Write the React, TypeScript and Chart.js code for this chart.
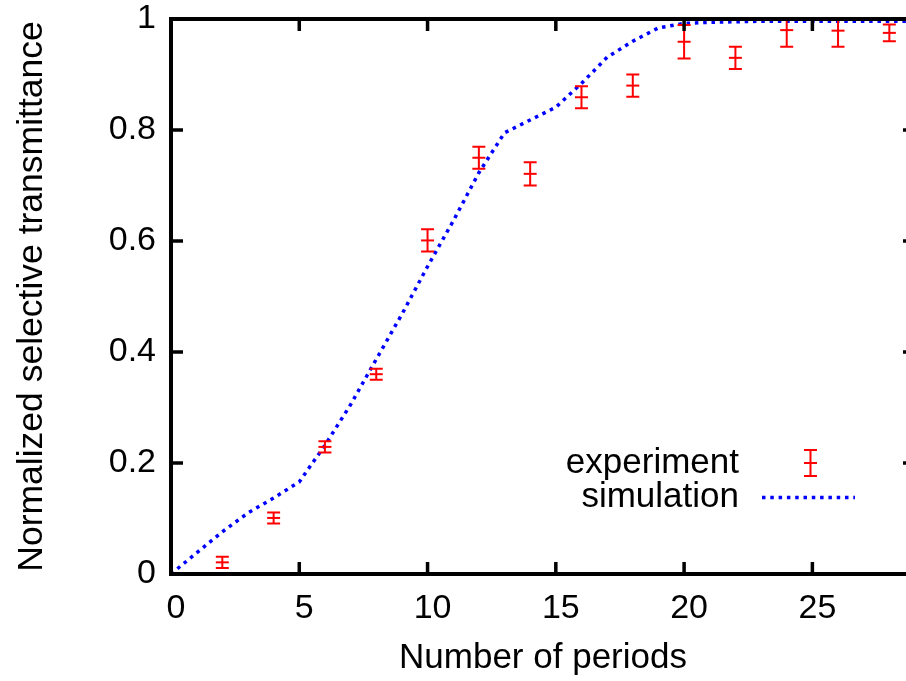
import React, { useEffect, useRef } from "react";
import { Chart, registerables } from "chart.js";

Chart.register(...registerables);

// ---- data ----
const periods = [2, 4, 6, 8, 10, 12, 14, 16, 18, 20, 22, 24, 26, 28];
const experiment = [0.021, 0.101, 0.229, 0.36, 0.601, 0.75, 0.721, 0.859, 0.88, 0.959, 0.93, 0.98, 0.979, 0.975];
const experimentErr = [0.01, 0.01, 0.01, 0.01, 0.02, 0.02, 0.021, 0.02, 0.02, 0.03, 0.02, 0.03, 0.029, 0.015];

const simPeriods = [0, 1, 2, 3, 4, 5, 6, 7, 8, 9, 10, 11, 12, 13, 14, 15, 16, 17, 18, 19, 20, 21, 22, 23, 24, 25, 26, 27, 28, 29];
const simulation = [
  0.0, 0.038, 0.076, 0.11, 0.137, 0.166, 0.232, 0.305, 0.387, 0.468, 0.554, 0.636, 0.723, 0.795, 0.818,
  0.841, 0.884, 0.931, 0.96, 0.984, 0.992, 0.994, 0.995, 0.996, 0.996, 0.996, 0.996, 0.996, 0.996, 0.996,
];

const xTickValues = [0, 5, 10, 15, 20, 25];
const yTickValues = [0, 0.2, 0.4, 0.6, 0.8, 1];
const yTickLabels = ["0", "0.2", "0.4", "0.6", "0.8", "1"];
const xTitle = "Number of periods";
const yTitle = "Normalized selective transmittance";
const legendLabels = ["experiment", "simulation"];

const FONT = "'Liberation Sans', Arial, Helvetica, sans-serif";
const RED = "#ff0000";
const BLUE = "#0000ff";

const gnuplotPlugin = {
  id: "gnuplotDecor",
  afterDatasetsDraw(chart: any) {
    const { ctx, chartArea } = chart;
    const xs = chart.scales.x;
    const ys = chart.scales.y;
    const meta = chart.getDatasetMeta(0);

    // error bars
    ctx.save();
    ctx.beginPath();
    ctx.rect(chartArea.left, chartArea.top, chartArea.right - chartArea.left, chartArea.bottom - chartArea.top);
    ctx.clip();
    ctx.strokeStyle = RED;
    ctx.lineWidth = 2;
    const cap = 6.5;
    meta.data.forEach((pt: any, i: number) => {
      const x = pt.x;
      const yTop = ys.getPixelForValue(experiment[i] + experimentErr[i]);
      const yBot = ys.getPixelForValue(experiment[i] - experimentErr[i]);
      ctx.beginPath();
      ctx.moveTo(x, yTop);
      ctx.lineTo(x, yBot);
      ctx.moveTo(x - cap, yTop);
      ctx.lineTo(x + cap, yTop);
      ctx.moveTo(x - cap, yBot);
      ctx.lineTo(x + cap, yBot);
      ctx.stroke();
    });
    ctx.restore();

    // frame and inward ticks
    ctx.save();
    ctx.strokeStyle = "#000";
    ctx.lineWidth = 4;
    ctx.strokeRect(chartArea.left, chartArea.top, chartArea.right - chartArea.left, chartArea.bottom - chartArea.top);
    ctx.lineWidth = 3.5;
    const tl = 12;
    ctx.beginPath();
    xs.ticks.forEach((t: any) => {
      const px = xs.getPixelForValue(t.value);
      ctx.moveTo(px, chartArea.bottom);
      ctx.lineTo(px, chartArea.bottom - tl);
      ctx.moveTo(px, chartArea.top);
      ctx.lineTo(px, chartArea.top + tl);
    });
    ys.ticks.forEach((t: any) => {
      const py = ys.getPixelForValue(t.value);
      ctx.moveTo(chartArea.left, py);
      ctx.lineTo(chartArea.left + tl, py);
      ctx.moveTo(chartArea.right, py);
      ctx.lineTo(chartArea.right - tl, py);
    });
    ctx.stroke();
    ctx.restore();

    // legend
    ctx.save();
    ctx.fillStyle = "#000";
    ctx.font = `35px ${FONT}`;
    ctx.textAlign = "right";
    ctx.textBaseline = "middle";
    ctx.fillText(legendLabels[0], 739, 463);
    ctx.fillText(legendLabels[1], 739, 497);
    // experiment sample
    ctx.strokeStyle = RED;
    ctx.lineWidth = 2;
    const lx = 810.5;
    ctx.beginPath();
    ctx.moveTo(lx, 450);
    ctx.lineTo(lx, 476);
    ctx.moveTo(lx - cap, 450);
    ctx.lineTo(lx + cap, 450);
    ctx.moveTo(lx - cap, 476);
    ctx.lineTo(lx + cap, 476);
    ctx.moveTo(lx - cap, 463);
    ctx.lineTo(lx + cap, 463);
    ctx.stroke();
    // simulation sample
    ctx.strokeStyle = BLUE;
    ctx.lineWidth = 3.5;
    ctx.setLineDash([3.5, 4.8]);
    ctx.beginPath();
    ctx.moveTo(762, 497.5);
    ctx.lineTo(855, 497.5);
    ctx.stroke();
    ctx.restore();
  },
};

export default function App() {
  const ref = useRef<HTMLCanvasElement | null>(null);

  useEffect(() => {
    if (!ref.current) return;
    const chart = new Chart(ref.current, {
      type: "scatter",
      data: {
        datasets: [
          {
            label: legendLabels[0],
            data: periods.map((p, i) => ({ x: p, y: experiment[i] })),
            showLine: false,
            pointStyle: "line",
            pointRadius: 6.5,
            pointBorderWidth: 2,
            borderColor: RED,
            backgroundColor: RED,
            pointBorderColor: RED,
          } as any,
          {
            type: "line",
            label: legendLabels[1],
            data: simPeriods.map((p, i) => ({ x: p, y: simulation[i] })),
            borderColor: BLUE,
            borderWidth: 3.5,
            borderDash: [3.5, 4.8],
            borderCapStyle: "butt",
            pointRadius: 0,
            tension: 0,
            fill: false,
          } as any,
        ],
      },
      options: {
        animation: false,
        responsive: false,
        maintainAspectRatio: false,
        devicePixelRatio: 1,
        layout: { padding: { left: 0, right: 15, top: 19, bottom: 0 } },
        plugins: {
          legend: { display: false },
          tooltip: { enabled: false },
        },
        scales: {
          x: {
            type: "linear",
            min: 0,
            max: 29,
            afterFit: (s: any) => {
              s.height = 107;
              s.paddingLeft = 0;
              s.paddingRight = 0;
            },
            afterBuildTicks: (s: any) => {
              s.ticks = xTickValues.map((v) => ({ value: v }));
            },
            grid: { display: false, drawTicks: false },
            border: { display: false },
            ticks: {
              includeBounds: false,
              stepSize: 5,
              padding: 18,
              labelOffset: 5,
              maxRotation: 0,
              color: "#000",
              font: { family: FONT, size: 34, lineHeight: 1 },
            },
            title: {
              display: true,
              text: xTitle,
              color: "#000",
              font: { family: FONT, size: 35, lineHeight: 1.2 },
              padding: { top: 0, bottom: 2 },
            },
          },
          y: {
            type: "linear",
            min: 0,
            max: 1,
            afterFit: (s: any) => {
              s.width = 171;
              s.paddingTop = 0;
              s.paddingBottom = 0;
            },
            afterBuildTicks: (s: any) => {
              s.ticks = yTickValues.map((v) => ({ value: v }));
            },
            grid: { display: false, drawTicks: false },
            border: { display: false },
            ticks: {
              includeBounds: false,
              padding: 15,
              color: "#000",
              font: { family: FONT, size: 34, lineHeight: 1 },
              callback: (v: any) => {
                const idx = yTickValues.findIndex((t) => Math.abs(t - Number(v)) < 1e-9);
                return idx >= 0 ? yTickLabels[idx] : "";
              },
            },
            title: {
              display: true,
              text: yTitle,
              color: "#000",
              font: { family: FONT, size: 35.5, lineHeight: 1.2 },
              padding: { top: 11, bottom: 0 },
            },
          },
        },
      },
      plugins: [gnuplotPlugin],
    } as any);
    return () => chart.destroy();
  }, []);

  return (
    <div
      style={{
        position: "fixed",
        left: 0,
        top: 0,
        width: 906,
        height: 681,
        overflow: "hidden",
        background: "#fff",
      }}
    >
      <canvas ref={ref} width={930} height={681} style={{ width: 930, height: 681, display: "block" }} />
    </div>
  );
}
